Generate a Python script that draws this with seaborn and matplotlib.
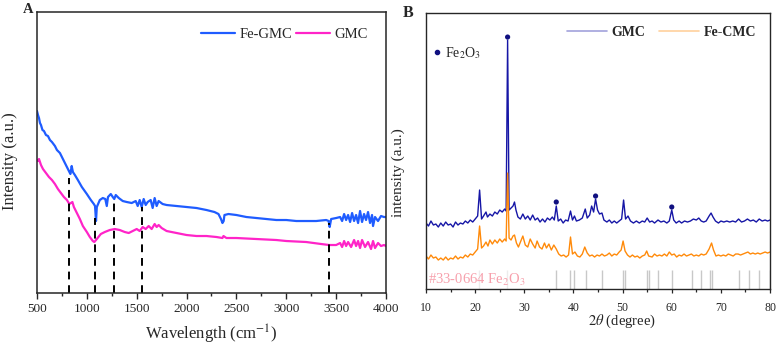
import numpy as np
import pandas as pd
import matplotlib
matplotlib.use("Agg")
import matplotlib.pyplot as plt
import seaborn as sns

# ---- panel A: FTIR ----
fe_gmc_wn = [500, 510, 520, 530, 540, 555, 570, 590, 610, 630, 650, 680, 700, 730, 760, 790, 820, 835, 848, 860,
             880, 910, 950, 1000, 1040, 1070, 1082, 1092, 1100, 1130, 1160, 1185, 1200, 1212, 1240, 1260, 1275, 1290,
             1320, 1360, 1400, 1450, 1490, 1510, 1530, 1550, 1570, 1590, 1610, 1640, 1660, 1680, 1700, 1720, 1760,
             1800, 1900, 2000, 2100, 2200, 2280, 2320, 2345, 2360, 2372, 2380, 2420, 2500, 2600, 2700, 2800, 2900,
             3000, 3100, 3200, 3300, 3400, 3425, 3435, 3450, 3500, 3540, 3560, 3580, 3600, 3620, 3640, 3660, 3680,
             3700, 3720, 3740, 3760, 3780, 3800, 3820, 3840, 3860, 3870, 3890, 3920, 3950, 3980, 4000]
fe_gmc_int = [182, 178, 175, 170, 168, 163, 162, 158, 157, 153, 151, 147, 143, 140, 134, 128, 122, 119, 127, 121,
              118, 113, 106, 99, 93, 89, 87, 72, 86, 93, 95, 94, 87, 96, 99, 96, 94, 98,
              95, 92, 91, 90, 92, 87, 93, 86, 94, 88, 91, 93, 85, 95, 87, 92, 89,
              88, 87, 86, 85, 83, 81, 79, 74, 70, 72, 78, 79, 78, 76, 75, 74, 73,
              73, 72, 72, 72, 73, 72, 66, 74, 75, 76, 72, 79, 73, 78, 71, 80, 72,
              78, 70, 82, 71, 79, 73, 81, 70, 78, 67, 76, 72, 77, 76, 76]

gmc_wn = [500, 510, 520, 540, 560, 590, 620, 650, 680, 710, 740, 770, 800, 825, 840, 855, 870, 900, 930, 960,
          1000, 1030, 1060, 1075, 1100, 1140, 1180, 1230, 1280, 1330, 1380, 1420, 1460, 1500, 1530, 1560, 1590,
          1620, 1650, 1680, 1700, 1720, 1750, 1800, 1850, 1900, 2000, 2100, 2200, 2300, 2360, 2370, 2400, 2500,
          2700, 2900, 3000, 3200, 3350, 3430, 3500, 3540, 3560, 3580, 3600, 3620, 3650, 3680, 3700, 3720, 3740,
          3760, 3790, 3820, 3850, 3870, 3890, 3920, 3950, 3980, 4000]
gmc_int = [133, 132, 134, 128, 124, 120, 116, 113, 109, 104, 100, 96, 93, 89, 90, 91, 86, 80, 74, 67,
           61, 56, 52, 51, 54, 59, 61, 63, 64, 63, 61, 60, 62, 64, 62, 66, 64,
           67, 64, 69, 66, 68, 65, 62, 61, 60, 58, 57, 57, 56, 55, 57, 55, 55,
           54, 53, 52, 51, 49, 48, 48, 50, 46, 52, 47, 51, 46, 53, 47, 52, 45,
           53, 46, 51, 44, 52, 45, 50, 47, 48, 47]

band_wn = [820, 1085, 1270, 1555, 3432]
band_top = [115, 75, 91, 86, 70]

# ---- panel B: XRD ----
gmc_tt = [10, 10.5, 11, 11.5, 12, 12.5, 13, 13.5, 14, 14.5, 15, 15.5, 16, 16.5, 17, 17.5, 18, 18.5, 19, 19.5,
          20, 20.5, 20.9, 21.3, 21.7, 22.2, 22.5, 23, 23.5, 24, 24.5, 25, 25.5, 26, 26.3, 26.6, 26.9, 27.3, 27.7,
          28, 28.3, 28.7, 29.2, 29.7, 30.2, 30.7, 31.2, 31.7, 32.2, 32.7, 33.2, 33.7, 34.2, 34.7, 35.2, 35.7, 36.1,
          36.5, 36.9, 37.4, 37.9, 38.4, 38.9, 39.4, 39.8, 40.2, 40.6, 41.2, 41.8, 42.4, 42.8, 43.3, 43.7, 44.1,
          44.5, 44.9, 45.3, 45.8, 46.2, 46.8, 47.3, 47.8, 48.3, 48.8, 49.3, 49.8, 50.2, 50.6, 51.1, 51.6, 52.2,
          52.8, 53.4, 54, 54.5, 55, 55.5, 56, 56.5, 57.2, 57.8, 58.4, 59, 59.5, 60, 60.4, 60.9, 61.5, 62, 62.6,
          63.2, 63.8, 64.4, 65, 65.5, 66, 66.5, 67, 67.6, 68, 68.4, 68.9, 69.5, 70, 70.6, 71.2, 71.8, 72.4, 73,
          73.6, 74.2, 74.8, 75.4, 76, 76.6, 77.2, 77.8, 78.4, 79, 79.5, 80]
gmc_xrd = [66, 63, 68, 64, 65, 62, 66, 63, 67, 64, 65, 62, 67, 64, 66, 65, 68, 66, 69, 67,
           70, 73, 99, 70, 73, 77, 72, 75, 73, 77, 75, 79, 77, 80, 78, 249, 79, 81, 83,
           87, 79, 72, 70, 75, 70, 73, 69, 74, 69, 71, 67, 70, 67, 71, 69, 72, 69,
           83, 68, 70, 66, 69, 68, 78, 69, 73, 68, 69, 71, 80, 71, 74, 83, 77,
           90, 79, 75, 76, 69, 67, 69, 66, 68, 66, 68, 70, 89, 70, 73, 68, 66,
           68, 66, 68, 67, 71, 67, 68, 66, 69, 67, 68, 66, 68, 79, 69, 66, 68, 66, 68,
           67, 68, 70, 69, 71, 68, 67, 68, 73, 76, 72, 68, 66, 68, 67, 68, 67, 68, 67,
           70, 67, 68, 70, 68, 69, 67, 70, 68, 69, 68, 69]

fecmc_tt = [10, 10.5, 11, 11.5, 12, 12.5, 13, 13.5, 14, 14.5, 15, 15.5, 16, 16.5, 17, 17.5, 18, 18.5, 19, 19.5,
            20, 20.5, 20.9, 21.3, 21.7, 22.2, 22.6, 23, 23.5, 24, 24.5, 25, 25.5, 26, 26.3, 26.6, 26.9, 27.3, 27.7,
            28, 28.4, 28.8, 29.2, 29.7, 30.2, 30.7, 31.2, 31.7, 32.2, 32.6, 33.1, 33.6, 34.1, 34.5, 35, 35.5, 36,
            36.5, 37, 37.5, 38, 38.5, 39, 39.4, 39.8, 40.3, 40.8, 41.3, 41.8, 42.3, 42.8, 43.3, 43.8, 44.3, 44.8,
            45.3, 45.8, 46.3, 46.8, 47.3, 47.8, 48.3, 48.8, 49.3, 49.7, 50.1, 50.5, 51, 51.5, 52, 52.5, 53, 53.5,
            54, 54.5, 54.9, 55.3, 56, 56.5, 57, 57.5, 58, 58.5, 59, 59.5, 60, 60.5, 61, 61.5, 62, 62.5, 63, 63.5,
            64, 64.5, 65, 65.5, 66, 66.5, 67, 67.6, 68.1, 68.5, 69, 69.5, 70, 70.5, 71, 71.5, 72, 72.5, 73, 73.5,
            74, 74.5, 75, 75.5, 76, 76.5, 77, 77.5, 78, 78.5, 79, 79.5, 80]
fecmc_xrd = [33, 30, 34, 31, 32, 29, 31, 29, 32, 29, 31, 30, 33, 30, 32, 31, 34, 32, 35, 34,
             37, 40, 63, 41, 43, 47, 43, 49, 45, 49, 46, 50, 47, 50, 48, 116, 51, 49, 53,
             54, 46, 42, 47, 53, 44, 42, 50, 45, 41, 48, 42, 40, 46, 41, 45, 39, 44,
             40, 35, 33, 34, 32, 34, 52, 35, 37, 33, 32, 35, 42, 36, 33, 34, 32, 34,
             33, 35, 33, 34, 36, 33, 35, 34, 37, 39, 48, 38, 34, 32, 34, 32, 33, 31,
             33, 34, 38, 33, 32, 35, 33, 34, 33, 35, 33, 37, 34, 35, 32, 34, 33, 35, 33, 34,
             35, 33, 34, 33, 35, 34, 35, 40, 46, 39, 33, 34, 33, 34, 33, 35, 34, 33, 35, 35,
             34, 35, 36, 37, 35, 36, 35, 36, 35, 36, 37, 36, 37]

fe2o3_peak_tt = [26.6, 36.5, 44.5, 60.0]
fe2o3_peak_y = [252, 87, 93, 82]

pdf_33_0664 = [20.7, 26.5, 36.5, 39.35, 40.2, 42.45, 45.75, 50.0, 50.5, 54.95, 55.3, 57.3, 60.0, 64.1, 65.95,
               67.7, 68.2, 73.6, 75.8, 77.8, 80.0]
pdf_height = 19

sns.set_style("ticks")
plt.rcParams["font.family"] = ["Liberation Serif", "DejaVu Serif"]
plt.rcParams["mathtext.fontset"] = "stix"

fig = plt.figure(figsize=(7.82, 3.48), dpi=100)
ax1 = fig.add_axes([0.0473, 0.158, 0.4463, 0.8075])
ax2 = fig.add_axes([0.5448, 0.1695, 0.4399, 0.793])

# A
ftir = pd.concat([
    pd.DataFrame({"wn": fe_gmc_wn, "I": fe_gmc_int, "s": "Fe-GMC"}),
    pd.DataFrame({"wn": gmc_wn, "I": gmc_int, "s": "GMC"}),
])
sns.lineplot(data=ftir, x="wn", y="I", hue="s", palette=["#1f5cff", "#ff24c8"], lw=1.6, ax=ax1,
             estimator=None, sort=False)
ax1.vlines(band_wn, 0, band_top, colors="black", linestyles=(0, (4, 3)), lw=1.4)
ax1.set_xlim(500, 4000)
ax1.set_ylim(0, 281)
ax1.set_xticks(np.arange(500, 4001, 500))
ax1.set_xticks(np.arange(750, 4000, 500), minor=True)
ax1.set_yticks([])
ax1.tick_params(axis="x", which="major", direction="out", length=4, width=1, labelsize=9.5, pad=3.5)
ax1.tick_params(axis="x", which="minor", direction="out", length=2.5, width=1)
ax1.set_xlabel("Wavelength (cm$^{-1}$)", fontsize=12)
ax1.set_ylabel("Intensity (a.u.)", fontsize=12)
ax1.xaxis.set_label_coords(0.5, -0.105)
ax1.yaxis.set_label_coords(-0.055, 0.47)
for sp in ax1.spines.values():
    sp.set_linewidth(1.1)
leg1 = ax1.legend(ncol=2, frameon=False, loc="upper right", bbox_to_anchor=(0.985, 0.99), fontsize=10.5,
                  handlelength=2.3, handletextpad=0.3, columnspacing=0.3)
for h in leg1.legend_handles:
    h.set_linewidth(1.6)
fig.text(0.036, 0.972, "A", fontsize=10.5, fontweight="bold", ha="center", va="center")

# B
ax2.vlines(pdf_33_0664[:2], 0, pdf_height, colors="#ececec", lw=1.0)
ax2.vlines(pdf_33_0664[2:], 0, pdf_height, colors="#c8c8c8", lw=1.0)
xrd = pd.concat([
    pd.DataFrame({"tt": gmc_tt, "I": gmc_xrd, "s": "GMC"}),
    pd.DataFrame({"tt": fecmc_tt, "I": fecmc_xrd, "s": "Fe-CMC"}),
])
sns.lineplot(data=xrd, x="tt", y="I", hue="s", palette=["#1616a6", "#ff8a0a"], lw=1.0, ax=ax2,
             estimator=None, sort=False)
sns.scatterplot(x=fe2o3_peak_tt, y=fe2o3_peak_y, color="#101080", s=14, edgecolor="none", ax=ax2, legend=False)
ax2.text(10.3, 9, "#33-0664 Fe$_2$O$_3$", color="#f7a0ac", fontsize=10.5, va="center", ha="left")
ax2.plot([12.2], [237], "o", color="#101080", ms=3)
ax2.text(13.8, 236, "Fe$_2$O$_3$", fontsize=10, va="center", ha="left")
ax2.set_xlim(10, 80)
ax2.set_ylim(0, 276)
ax2.set_xticks(np.arange(10, 81, 10))
ax2.set_xticks(np.arange(15, 80, 10), minor=True)
ax2.set_yticks([])
ax2.tick_params(axis="x", which="major", direction="out", length=3, width=0.9, labelsize=8.5, pad=6)
ax2.tick_params(axis="x", which="minor", direction="out", length=2, width=0.9)
ax2.set_xlabel(r"$2\theta$ (degree)", fontsize=10.5)
ax2.set_ylabel("intensity (a.u.)", fontsize=11)
ax2.xaxis.set_label_coords(0.57, -0.085)
ax2.yaxis.set_label_coords(-0.06, 0.42)
for sp in ax2.spines.values():
    sp.set_linewidth(1.0)
leg2 = ax2.legend(ncol=2, frameon=False, loc="upper right", bbox_to_anchor=(0.995, 1.0),
                  prop={"size": 10, "weight": "bold"}, handlelength=2.9, handletextpad=0.3, columnspacing=1.0)
for h in leg2.legend_handles:
    h.set_alpha(0.4)
    h.set_linewidth(1.2)
fig.text(0.522, 0.963, "B", fontsize=11.5, fontweight="bold", ha="center", va="center")

plt.savefig("out.png", dpi=100)
plt.close()
